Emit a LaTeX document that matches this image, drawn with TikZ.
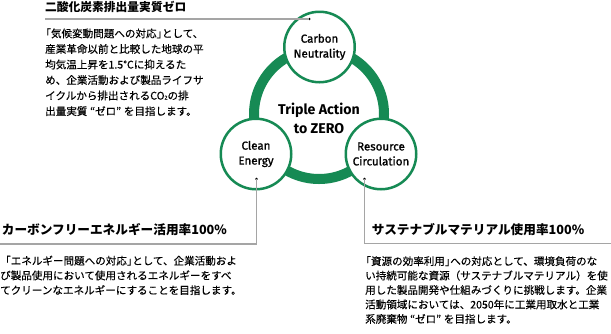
\documentclass[tikz,border=0pt]{standalone}
\usepackage{fontspec}
\setsansfont{Fira Sans}
\newfontfamily\jp{Noto Sans CJK JP}
\newfontfamily\jpbody{Noto Sans CJK JP}[FakeBold=0.3]
\newfontfamily\lblfont{Fira Sans}[FakeBold=1]
\definecolor{tgreen}{RGB}{22,138,84}
\definecolor{lgray}{RGB}{165,165,165}
\newcommand\lbr{\hspace*{-0.45em}「}
\newcommand\rbr{」\hspace{-0.5em}}
\newcommand\zero{\hspace{0.25em}“ゼロ”\hspace{0.25em}}
\begin{document}
\begin{tikzpicture}[x=1bp,y=-1bp,
  bub/.style={circle,draw=tgreen,line width=2.5bp,fill=white,minimum size=70.5bp,inner sep=0pt,
    align=center,font=\lblfont\fontsize{11.6}{15}\selectfont},
  dotnode/.style={circle,fill=black,inner sep=0pt,minimum size=2.6bp},
  gline/.style={draw=lgray,line width=1.3bp},
  jptitle/.style={inner sep=0pt,anchor=west,font=\jp\bfseries\fontsize{11.8}{14}\selectfont},
  jptitleb/.style={inner sep=0pt,anchor=west,font=\jp\bfseries\fontsize{12.7}{14}\selectfont},
  jpbox/.style={inner sep=0pt,anchor=north west,align=left}
]
\useasboundingbox (0,0) rectangle (611,333);
\fill[white] (0,0) rectangle (611,333);

% ring
\draw[tgreen,line width=10bp] (319,114) circle (65);

% circles
\node[bub] (cn) at (319.5,47) {Carbon\\Neutrality};
\node[bub] (ce) at (256,154) {Clean\\Energy};
\node[bub] (rc) at (381,154) {Resource\\Circulation};

\node[align=center,inner sep=0pt,font=\sffamily\bfseries\fontsize{14.2}{18.5}\selectfont] (core) at (319,118.5) {Triple Action\\to ZERO};

% dots and leader lines
\node[dotnode] (d1) at (309.3,19) {};
\node[dotnode] (d2) at (256.5,179) {};
\node[dotnode] (d3) at (364.5,179) {};
\coordinate (e1) at (45,19);
\coordinate (e2) at (0,244);
\coordinate (e3) at (611,243.5);
\draw[gline] (d1.center) -- (e1);
\draw[gline] (d2.center) |- (e2);
\draw[gline] (d3.center) |- (e3);

% texts
\node[jptitle] (t1) at (45,7) {二酸化炭素排出量実質ゼロ};
\node[jpbox,font=\jpbody\fontsize{10.6}{15.6}\selectfont] (b1) at (45,28.3) {%
\lbr 気候変動問題への対応\rbr として、\\
産業革命以前と比較した地球の平\\
均気温上昇を1.5℃に抑えるた\\
め、企業活動および製品ライフサ\\
イクルから排出されるCO{\fontsize{5.5}{6}\selectfont 2}の排\\
出量実質\zero を目指します。};

\node[jptitleb] (t2) at (1.7,230) {カーボンフリーエネルギー活用率100\%};
\node[jpbox,font=\jpbody\fontsize{10.6}{14.8}\selectfont] (b2) at (0,255.5) {%
「エネルギー問題への対応\rbr として、企業活動およ\\
び製品使用において使用されるエネルギーをすべ\\
てクリーンなエネルギーにすることを目指します。};

\node[jptitleb] (t3) at (371.7,230) {サステナブルマテリアル使用率100\%};
\node[jpbox,font=\jpbody\fontsize{10.6}{14.5}\selectfont] (b3) at (365,256) {%
\lbr 資源の効率利用\rbr への対応として、環境負荷のな\\
い持続可能な資源（サステナブルマテリアル）を使\\
用した製品開発や仕組みづくりに挑戦します。企業\\
活動領域においては、2050年に工業用取水と工業\\
系廃棄物\zero を目指します。};
\end{tikzpicture}
\end{document}
